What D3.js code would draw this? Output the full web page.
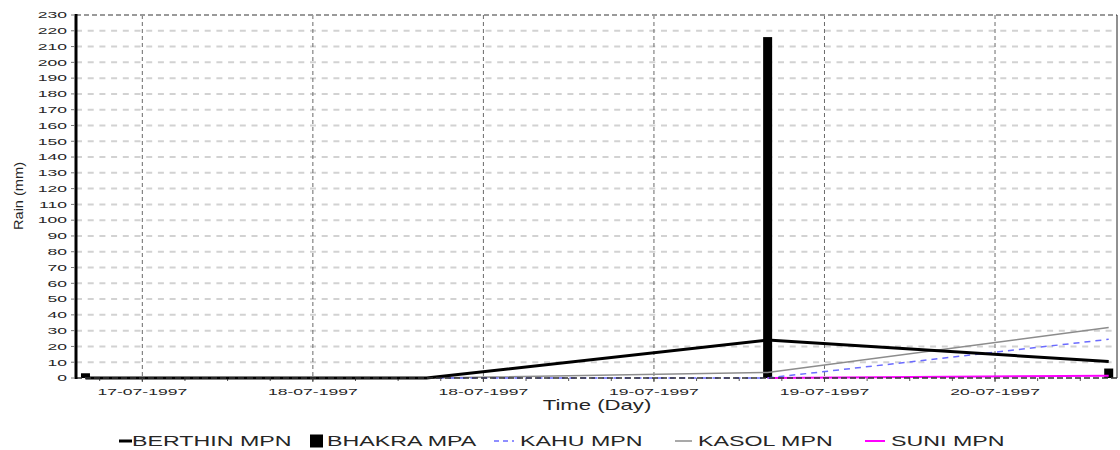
<!DOCTYPE html>
<html>
<head>
<meta charset="utf-8">
<script src="https://cdn.jsdelivr.net/npm/d3@7"></script>
<style>
  html, body { margin: 0; padding: 0; background: #fff; }
  svg { display: block; }
  text { font-family: "Liberation Sans", Arial, sans-serif; fill: #262626; }
</style>
</head>
<body>
<svg id="chart" width="1120" height="450"></svg>
<script>
// Daily observation times (08:00) and rainfall per station, mm
const obsTimes = ["1997-07-17T08:00", "1997-07-18T08:00", "1997-07-19T08:00", "1997-07-20T08:00"];
const berthin = [0, 0, 24, 10.5];
const bhakra  = [3, 0, 216, 6];
const kahu    = [0, 0, 0, 24.5];
const kasol   = [0, 0, 3.5, 32];
const suni    = [null, null, 0, 1.5];

// Axis ticks
const yTickValues = [0,10,20,30,40,50,60,70,80,90,100,110,120,130,140,150,160,170,180,190,200,210,220,230];
const xTickTimes = ["1997-07-17T12:00", "1997-07-18T00:00", "1997-07-18T12:00", "1997-07-19T00:00", "1997-07-19T12:00", "1997-07-20T00:00"];
const xDomain = ["1997-07-17T07:20", "1997-07-20T08:35"];

const legendNames = ["BERTHIN MPN", "BHAKRA MPA", "KAHU MPN", "KASOL MPN", "SUNI MPN"];

const parse = d3.isoParse;
const times = obsTimes.map(parse);

const svg = d3.select("#chart");
const plotL = 76, plotR = 1117, plotT = 15, plotB = 378;

const x = d3.scaleTime().domain(xDomain.map(parse)).range([plotL, plotR]);
const y = d3.scaleLinear().domain([0, 230]).range([plotB, plotT]);

// horizontally stretched text helper
function stretched(g, tx, ty, sx, str, anchor, size) {
  return g.append("text")
    .attr("transform", `translate(${tx},${ty}) scale(${sx},1)`)
    .attr("text-anchor", anchor)
    .style("font-size", size + "px")
    .text(str);
}

// Horizontal grid
const grid = svg.append("g");
grid.selectAll("line.h")
  .data(yTickValues.filter(v => v > 0 && v < 230))
  .join("line")
  .attr("x1", plotL).attr("x2", plotR)
  .attr("y1", d => y(d)).attr("y2", d => y(d))
  .attr("stroke", "#d2d2d2").attr("stroke-width", 2)
  .attr("stroke-dasharray", "6,5.7");

// Vertical grid
grid.selectAll("line.v")
  .data(xTickTimes.map(parse))
  .join("line")
  .attr("x1", d => x(d)).attr("x2", d => x(d))
  .attr("y1", plotT).attr("y2", plotB)
  .attr("stroke", "#6a6a6a").attr("stroke-width", 1)
  .attr("stroke-dasharray", "4,3");

// Top border (dashed) and right border
svg.append("line")
  .attr("x1", plotL).attr("x2", plotR).attr("y1", plotT).attr("y2", plotT)
  .attr("stroke", "#9a9a9a").attr("stroke-width", 2).attr("stroke-dasharray", "5,3");
svg.append("line")
  .attr("x1", plotR).attr("x2", plotR).attr("y1", plotT).attr("y2", plotB)
  .attr("stroke", "#222").attr("stroke-width", 1);

// X axis ticks (minor every 3 h)
const minor = d3.timeHour.every(3).range(x.domain()[0], x.domain()[1]);
svg.append("g").selectAll("line")
  .data(minor)
  .join("line")
  .attr("x1", d => x(d)).attr("x2", d => x(d))
  .attr("y1", plotB).attr("y2", plotB + 3)
  .attr("stroke", "#555").attr("stroke-width", 1);

// Bars: BHAKRA MPA
const barW = 9;
svg.append("g").selectAll("rect")
  .data(bhakra.map((v, i) => ({ t: times[i], v })))
  .join("rect")
  .attr("x", d => x(d.t) - barW / 2)
  .attr("width", barW)
  .attr("y", d => y(d.v))
  .attr("height", d => y(0) - y(d.v))
  .attr("fill", "#000");

// Lines (drawn bottom to top)
const lineGen = d3.line()
  .defined(d => d.v !== null)
  .x(d => x(d.t)).y(d => y(d.v));
const toPts = arr => arr.map((v, i) => ({ t: times[i], v }));

const lineSeries = [
  { vals: suni, color: "#ff00ff", width: 2, dash: null },
  { vals: kasol, color: "#8c8c8c", width: 1.5, dash: null },
  { vals: kahu, color: "#6b6bff", width: 1.5, dash: "6,5" },
  { vals: berthin, color: "#000", width: 3, dash: null }
];
svg.append("g").selectAll("path")
  .data(lineSeries)
  .join("path")
  .attr("d", d => lineGen(toPts(d.vals)))
  .attr("fill", "none")
  .attr("stroke", d => d.color)
  .attr("stroke-width", d => d.width)
  .attr("stroke-dasharray", d => d.dash);

// Bottom axis line (dashed, over the series)
svg.append("line")
  .attr("x1", plotL).attr("x2", plotR).attr("y1", plotB).attr("y2", plotB)
  .attr("stroke", "#333").attr("stroke-width", 1.6)
  .attr("stroke-dasharray", "6,3");

// Left axis (thick)
svg.append("line")
  .attr("x1", plotL).attr("x2", plotL).attr("y1", plotT - 1).attr("y2", plotB + 1)
  .attr("stroke", "#000").attr("stroke-width", 3);

// Y ticks + labels
const yAx = svg.append("g");
yTickValues.forEach(v => {
  yAx.append("line")
    .attr("x1", plotL - 5).attr("x2", plotL - 1)
    .attr("y1", y(v)).attr("y2", y(v))
    .attr("stroke", "#777").attr("stroke-width", 1);
  stretched(yAx, 67, y(v) + 3.3, 1.95, String(v), "end", 9);
});

// X tick labels
const fmt = d3.timeFormat("%d-%m-%Y");
const xAx = svg.append("g");
xTickTimes.map(parse).forEach(t => {
  xAx.append("line")
    .attr("x1", x(t)).attr("x2", x(t)).attr("y1", plotB).attr("y2", plotB + 4)
    .attr("stroke", "#444");
  stretched(xAx, x(t), 395, 1.95, fmt(t), "middle", 9);
});

// Axis titles
stretched(svg, 597, 410, 1.58, "Time (Day)", "middle", 14);
svg.append("text")
  .attr("transform", "translate(23,196) rotate(-90)")
  .attr("text-anchor", "middle")
  .style("font-size", "13px")
  .attr("textLength", 68)
  .attr("lengthAdjust", "spacingAndGlyphs")
  .text("Rain (mm)");

// Legend
const legendY = 446;
const lg = svg.append("g");
const legendItems = [
  { name: legendNames[0], sym: "line", color: "#000", w: 3, x0: 119, x1: 132, tx: 132 },
  { name: legendNames[1], sym: "rect", color: "#000", x0: 310, x1: 323, tx: 327 },
  { name: legendNames[2], sym: "dash", color: "#6b6bff", w: 1.5, x0: 494, x1: 514, tx: 520 },
  { name: legendNames[3], sym: "line", color: "#8c8c8c", w: 1.5, x0: 675, x1: 692, tx: 698 },
  { name: legendNames[4], sym: "line", color: "#ff00ff", w: 2, x0: 865, x1: 885, tx: 891 }
];
legendItems.forEach(it => {
  const cy = legendY - 5;
  if (it.sym === "rect") {
    lg.append("rect").attr("x", it.x0).attr("y", cy - 6.5).attr("width", it.x1 - it.x0).attr("height", 13).attr("fill", it.color);
  } else {
    lg.append("line")
      .attr("x1", it.x0).attr("x2", it.x1).attr("y1", cy).attr("y2", cy)
      .attr("stroke", it.color).attr("stroke-width", it.w)
      .attr("stroke-dasharray", it.sym === "dash" ? "5,4" : null);
  }
  stretched(lg, it.tx, legendY, 1.66, it.name, "start", 14);
});
</script>
</body>
</html>
